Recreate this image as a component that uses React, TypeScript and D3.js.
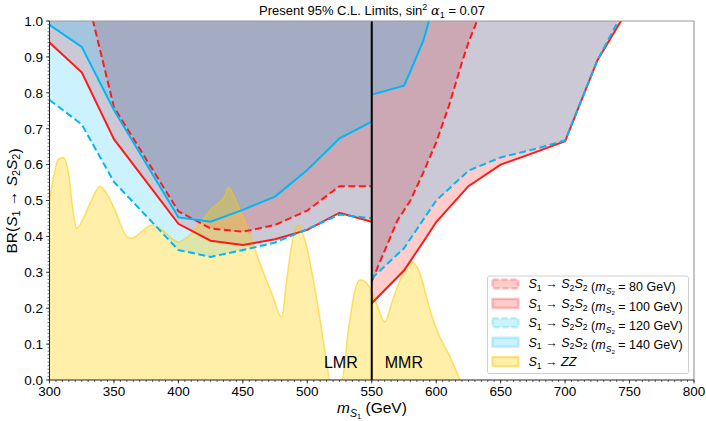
import React from 'react'
import * as d3 from 'd3'

// m_S1 (GeV) and BR limits
const massLMR = [300, 325, 350, 400, 425, 450, 475, 500, 525, 550]
const br80LMR = [1.3, 1.13, 0.76, 0.47, 0.422, 0.413, 0.432, 0.472, 0.54, 0.54]
const br100LMR = [0.94, 0.857, 0.671, 0.435, 0.388, 0.376, 0.392, 0.418, 0.466, 0.441]
const br120LMR = [0.78, 0.712, 0.552, 0.362, 0.343, 0.362, 0.383, 0.42, 0.461, 0.45]
const br140LMR = [0.989, 0.928, 0.752, 0.453, 0.441, 0.474, 0.511, 0.585, 0.673, 0.72]

const mass80MMR = [550, 570, 580, 590, 600, 610, 620, 625, 635]
const br80MMR = [0.275, 0.445, 0.5, 0.578, 0.662, 0.765, 0.885, 0.94, 1.03]
const mass100MMR = [550, 575, 590, 600, 625, 650, 675, 700, 725, 750]
const br100MMR = [0.214, 0.305, 0.385, 0.44, 0.54, 0.6, 0.632, 0.665, 0.89, 1.04]
const mass120MMR = [550, 575, 600, 625, 650, 675, 700, 725, 750]
const br120MMR = [0.283, 0.367, 0.5, 0.583, 0.62, 0.642, 0.667, 0.89, 1.06]
const mass140MMR = [550, 575, 580, 590, 600]
const br140MMR = [0.795, 0.82, 0.86, 0.945, 1.07]

const zzMass = [300, 303.7, 306.8, 310.7, 314.6, 318.5, 321.1, 325, 331.4, 339.2, 344.4, 350.8, 359.9, 363.8, 371.5, 379.3, 385.7, 400, 407.7, 425.8, 436.2, 438.7, 446.5, 454.2, 463.3, 472.4, 480.1, 484, 489.1, 493, 498.2, 504.7, 511.2, 515.1, 517.6, 526.7, 531.8, 537, 540.9, 546, 550, 555, 560, 566, 572, 577, 581, 587.4, 595.2, 601.6, 610.7, 618.5]
const zzBR = [0.5, 0.576, 0.615, 0.62, 0.58, 0.464, 0.422, 0.441, 0.492, 0.54, 0.52, 0.473, 0.4, 0.395, 0.413, 0.432, 0.422, 0.385, 0.4, 0.478, 0.515, 0.537, 0.483, 0.418, 0.325, 0.241, 0.176, 0.279, 0.4, 0.432, 0.39, 0.279, 0.139, 0.046, 0, 0, 0.139, 0.25, 0.279, 0.27, 0.246, 0.2, 0.162, 0.22, 0.279, 0.315, 0.33, 0.297, 0.195, 0.13, 0.065, 0]

const mS2Labels = ['80', '100', '120', '140']
const xTicks = [300, 350, 400, 450, 500, 550, 600, 650, 700, 750, 800]
const yTicks = [0, 0.1, 0.2, 0.3, 0.4, 0.5, 0.6, 0.7, 0.8, 0.9, 1.0]

const W = 706
const H = 421
const FONT = "'Liberation Sans', Arial, Helvetica, sans-serif"
const RED = '#ff1a1a'
const BLUE = '#00b7f5'

const zip = (m: number[], b: number[]) => m.map((v, i) => [v, b[i]] as [number, number])

const series = [
  { label: mS2Labels[0], color: RED, rgb: '255,0,0', dash: '7,3.5', parts: [zip(massLMR, br80LMR), zip(mass80MMR, br80MMR)] },
  { label: mS2Labels[1], color: RED, rgb: '255,0,0', dash: null, parts: [zip(massLMR, br100LMR), zip(mass100MMR, br100MMR)] },
  { label: mS2Labels[2], color: BLUE, rgb: '0,191,255', dash: '7,3.5', parts: [zip(massLMR, br120LMR), zip(mass120MMR, br120MMR)] },
  { label: mS2Labels[3], color: BLUE, rgb: '0,191,255', dash: null, parts: [zip(massLMR, br140LMR), zip(mass140MMR, br140MMR)] },
]

function S12(size: number) {
  // S1 -> S2S2 in mathtext style
  const s = size * 0.7
  const d = size * 0.22
  return (
    <>
      <tspan fontStyle="italic">S</tspan>
      <tspan fontSize={s} dy={d}>1</tspan>
      <tspan dy={-d}> → </tspan>
      <tspan fontStyle="italic">S</tspan>
      <tspan fontSize={s} dy={d}>2</tspan>
      <tspan dy={-d} fontStyle="italic">S</tspan>
      <tspan fontSize={s} dy={d}>2</tspan>
      <tspan dy={-d}></tspan>
    </>
  )
}

export default function App() {
  const x = d3.scaleLinear().domain([300, 800]).range([49.5, 694])
  const y = d3.scaleLinear().domain([0, 1]).range([380, 21])

  const areaAbove = d3.area<[number, number]>()
    .x(d => x(d[0]))
    .y0(y(1))
    .y1(d => y(d[1]))
  const line = d3.line<[number, number]>()
    .x(d => x(d[0]))
    .y(d => y(d[1]))
  const zzData = zip(zzMass, zzBR)
  const zzArea = d3.area<[number, number]>()
    .x(d => x(d[0]))
    .y0(y(0))
    .y1(d => y(d[1]))
    .curve(d3.curveMonotoneX)
  const zzLine = d3.line<[number, number]>()
    .x(d => x(d[0]))
    .y(d => y(d[1]))
    .curve(d3.curveMonotoneX)

  const xMinor = d3.range(300, 801, 5)
  const yMinor = d3.range(0, 101, 1).map(v => v / 100)

  const [x0, x1] = x.range()
  const [yb, yt] = y.range()

  const legX = 487.5
  const legY = 276
  const rowH = 19.4

  return (
    <svg width={W} height={H} style={{ position: 'absolute', left: 0, top: 0, background: '#fff' }} fontFamily={FONT}>
      <defs>
        <clipPath id="plot">
          <rect x={x0} y={yt} width={x1 - x0} height={yb - yt} />
        </clipPath>
      </defs>

      <g clipPath="url(#plot)">
        {series.map((s, i) =>
          s.parts.map((p, j) => (
            <path key={`f${i}${j}`} d={areaAbove(p) || ''} fill={`rgba(${s.rgb},0.2)`} stroke="none" />
          ))
        )}
        <path d={zzArea(zzData) || ''} fill="rgba(255,208,0,0.34)" />
        <path d={zzLine(zzData) || ''} fill="none" stroke="rgba(255,200,0,0.55)" strokeWidth={1.5} />
        {series.map((s, i) =>
          s.parts.map((p, j) => (
            <path key={`l${i}${j}`} d={line(p) || ''} fill="none" stroke={s.color} strokeWidth={2}
              strokeDasharray={s.dash || undefined} />
          ))
        )}
        <line x1={x(550)} x2={x(550)} y1={y(0)} y2={y(1)} stroke="#000" strokeWidth={2} />
      </g>

      {/* frame */}
      <line x1={x0} x2={x1} y1={yt} y2={yt} stroke="#999" strokeWidth={1} />
      <line x1={x1} x2={x1} y1={yt} y2={yb} stroke="#888" strokeWidth={1} />
      <line x1={x0} x2={x0} y1={yt} y2={yb} stroke="#222" strokeWidth={1} />
      <line x1={x0} x2={x1} y1={yb} y2={yb} stroke="#222" strokeWidth={1} />

      {/* ticks */}
      {xMinor.map(v => (
        <line key={`xm${v}`} x1={x(v)} x2={x(v)} y1={yb} y2={yb + 2} stroke="#222" strokeWidth={0.7} />
      ))}
      {xTicks.map(v => (
        <g key={`xt${v}`}>
          <line x1={x(v)} x2={x(v)} y1={yb} y2={yb + 3.5} stroke="#222" strokeWidth={0.8} />
          <text x={x(v)} y={396} textAnchor="middle" fontSize={13.5}>{v}</text>
        </g>
      ))}
      {yMinor.map(v => (
        <line key={`ym${v}`} x1={x0 - 2} x2={x0} y1={y(v)} y2={y(v)} stroke="#222" strokeWidth={0.6} />
      ))}
      {yTicks.map(v => (
        <g key={`yt${v}`}>
          <line x1={x0 - 3.5} x2={x0} y1={y(v)} y2={y(v)} stroke="#222" strokeWidth={0.8} />
          <text x={43} y={y(v) + 4.8} textAnchor="end" fontSize={13.5}>{v.toFixed(1)}</text>
        </g>
      ))}

      {/* region labels */}
      <text x={x(550) - 14} y={368} textAnchor="end" fontSize={16}>LMR</text>
      <text x={x(550) + 13} y={368} textAnchor="start" fontSize={16}>MMR</text>

      {/* title */}
      <text x={372} y={15} textAnchor="middle" fontSize={13} style={{ whiteSpace: 'pre' }}>
        Present 95% C.L. Limits, sin<tspan fontSize={9} dy={-5}>2</tspan>
        <tspan dy={5}> </tspan>
        <tspan fontFamily="'DejaVu Serif', serif" fontStyle="italic">α</tspan>
        <tspan fontSize={9} dy={3}>1</tspan>
        <tspan dy={-3}> = 0.07</tspan>
      </text>

      {/* axis labels */}
      <text x={372} y={413} textAnchor="middle" fontSize={15.5} style={{ whiteSpace: 'pre' }}>
        <tspan fontStyle="italic">m</tspan>
        <tspan fontSize={10.5} dy={3.5} fontStyle="italic">S</tspan>
        <tspan fontSize={7.5} dy={2}>1</tspan>
        <tspan dy={-5.5}> (GeV)</tspan>
      </text>
      <text transform="translate(17,201) rotate(-90)" textAnchor="middle" fontSize={15.5} style={{ whiteSpace: 'pre' }}>
        BR({S12(15.5)})
      </text>

      {/* legend */}
      <rect x={legX} y={legY} width={201} height={97.5} rx={2} fill="rgba(255,255,255,0.8)" stroke="#d0d0d0" strokeWidth={1} />
      {series.map((s, i) => {
        const cy = legY + 8 + i * rowH
        return (
          <g key={`lg${i}`}>
            <rect x={legX + 5} y={cy - 4.5} width={26} height={9} fill={`rgba(${s.rgb},0.2)`}
              stroke={`rgba(${s.rgb},0.22)`} strokeWidth={2.5} strokeDasharray={s.dash ? '6,3' : undefined} />
            <text x={legX + 41} y={cy + 4.4} fontSize={12.5} style={{ whiteSpace: 'pre' }}>
              {S12(12.5)}
              <tspan> (</tspan>
              <tspan fontStyle="italic">m</tspan>
              <tspan fontSize={8.6} dy={2.8} fontStyle="italic">S</tspan>
              <tspan fontSize={6.2} dy={1.5}>2</tspan>
              <tspan dy={-4.3}> = {s.label} GeV)</tspan>
            </text>
          </g>
        )
      })}
      {(() => {
        const cy = legY + 8 + 4 * rowH
        return (
          <g>
            <rect x={legX + 5} y={cy - 4.5} width={26} height={9} fill="rgba(255,208,0,0.34)"
              stroke="rgba(255,200,0,0.5)" strokeWidth={2} />
            <text x={legX + 41} y={cy + 4.4} fontSize={12.5} style={{ whiteSpace: 'pre' }}>
              <tspan fontStyle="italic">S</tspan>
              <tspan fontSize={8.6} dy={2.7}>1</tspan>
              <tspan dy={-2.7}> → </tspan>
              <tspan fontStyle="italic">ZZ</tspan>
            </text>
          </g>
        )
      })()}
    </svg>
  )
}
